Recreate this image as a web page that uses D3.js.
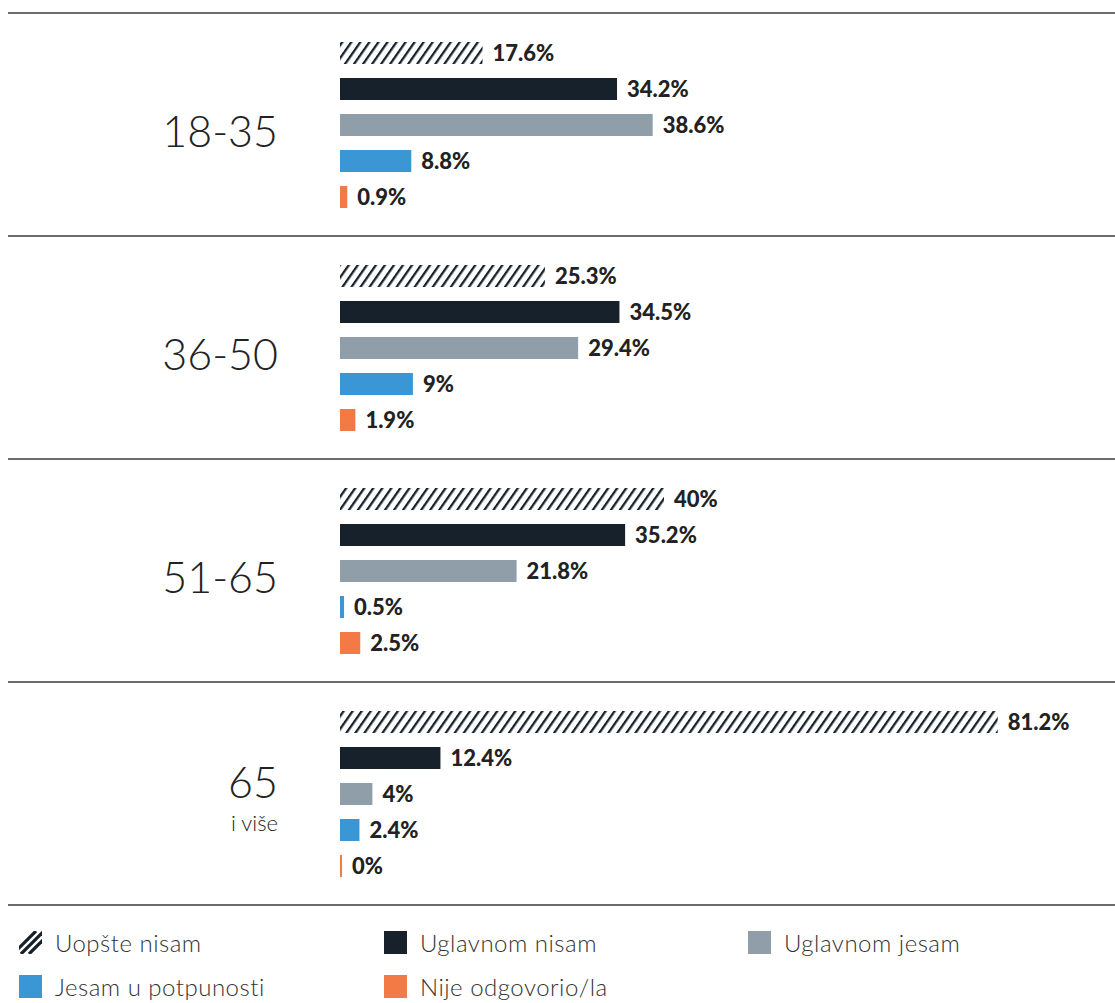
<!DOCTYPE html>
<html>
<head>
<meta charset="utf-8">
<script src="https://cdn.jsdelivr.net/npm/d3@7/dist/d3.min.js"></script>
<style>
  html, body { margin: 0; padding: 0; background: #fff; }
  svg { display: block; }
</style>
</head>
<body>
<svg id="chart" width="1115" height="1003"></svg>
<script>
// ---- data ----
const groups = ["18-35", "36-50", "51-65", "65"];
const groupSub = ["", "", "", "i više"];
const seriesNames = ["Uopšte nisam", "Uglavnom nisam", "Uglavnom jesam", "Jesam u potpunosti", "Nije odgovorio/la"];
const uopsteNisam     = [17.6, 25.3, 40, 81.2];
const uglavnomNisam   = [34.2, 34.5, 35.2, 12.4];
const uglavnomJesam   = [38.6, 29.4, 21.8, 4];
const jesamUPotpunosti= [8.8, 9, 0.5, 2.4];
const nijeOdgovorio   = [0.9, 1.9, 2.5, 0];
const seriesValues = [uopsteNisam, uglavnomNisam, uglavnomJesam, jesamUPotpunosti, nijeOdgovorio];
const seriesColors = ["url(#hatch)", "#16212b", "#8f9ea8", "#3a96d4", "#f47a45"];

const svg = d3.select("#chart");
const defs = svg.append("defs");
const pat = defs.append("pattern")
  .attr("id", "hatch").attr("patternUnits", "userSpaceOnUse")
  .attr("width", 7.4).attr("height", 7.4)
  .attr("patternTransform", "rotate(35)");
pat.append("rect").attr("width", 7.4).attr("height", 7.4).attr("fill", "#fff");
pat.append("rect").attr("x", 0).attr("width", 2.3).attr("height", 7.4).attr("fill", "#16212b");

const x = d3.scaleLinear().domain([0, 100]).range([340, 1150]);
const gy = d3.scaleBand().domain(groups).range([13, 905]).padding(0);
const by = d3.scaleBand().domain(seriesNames).range([29, 195]).paddingInner(0.389).paddingOuter(0);

const font = "Lato, 'Noto Sans', sans-serif";

// separator lines
const lines = groups.map(g => gy(g)).concat([gy.range()[1]]);
svg.selectAll("line.sep").data(lines).join("line")
  .attr("class", "sep")
  .attr("x1", 8).attr("x2", 1115)
  .attr("y1", d => d).attr("y2", d => d)
  .attr("stroke", "#3a3a3a").attr("stroke-width", 1.5);

groups.forEach((g, gi) => {
  const top = gy(g);
  const cy = top + gy.bandwidth() / 2;
  const gEl = svg.append("g");
  if (groupSub[gi]) {
    gEl.append("text").attr("x", 278).attr("y", cy + 4)
      .attr("text-anchor", "end").attr("font-family", font).attr("font-weight", 300)
      .attr("font-size", 43).attr("fill", "#222").text(g);
    gEl.append("text").attr("x", 278).attr("y", cy + 37)
      .attr("text-anchor", "end").attr("font-family", font).attr("font-weight", 300)
      .attr("font-size", 22).attr("fill", "#222").text(groupSub[gi]);
  } else {
    gEl.append("text").attr("x", 278).attr("y", cy + 22)
      .attr("text-anchor", "end").attr("font-family", font).attr("font-weight", 300)
      .attr("font-size", 43).attr("fill", "#222").text(g);
  }

  const rows = seriesNames.map((s, si) => ({ s, si, v: seriesValues[si][gi] }));
  gEl.selectAll("rect.bar").data(rows).join("rect")
    .attr("class", "bar")
    .attr("x", x(0))
    .attr("y", d => top + by(d.s))
    .attr("width", d => Math.max(x(d.v) - x(0), 2))
    .attr("height", by.bandwidth())
    .attr("fill", d => seriesColors[d.si]);
  gEl.selectAll("text.val").data(rows).join("text")
    .attr("class", "val")
    .attr("x", d => x(0) + Math.max(x(d.v) - x(0), 2) + 10)
    .attr("y", d => top + by(d.s) + by.bandwidth() / 2 + 8)
    .attr("font-family", font).attr("font-weight", 900)
    .attr("font-size", 22).attr("fill", "#222")
    .text(d => d.v + "%");
});

// legend
const legX = [19, 384, 748];
const legY = [931, 975];
const leg = svg.append("g");
seriesNames.forEach((s, i) => {
  const lx = legX[i % 3], ly = legY[Math.floor(i / 3)];
  if (i === 0) {
    const gg = leg.append("g");
    gg.append("clipPath").attr("id", "legclip").append("rect")
      .attr("x", lx).attr("y", ly).attr("width", 23).attr("height", 23);
    const strokes = [0, 8, 16];
    gg.append("g").attr("clip-path", "url(#legclip)")
      .selectAll("line").data(strokes).join("line")
      .attr("x1", d => lx - 6 + d).attr("y1", ly + 23)
      .attr("x2", d => lx + 17 + d).attr("y2", ly)
      .attr("stroke", "#16212b").attr("stroke-width", 3.2);
  } else {
    leg.append("rect").attr("x", lx).attr("y", ly).attr("width", 23).attr("height", 23)
      .attr("fill", seriesColors[i]);
  }
  leg.append("text").attr("x", lx + 36).attr("y", ly + 21)
    .attr("font-family", font).attr("font-weight", 300)
    .attr("font-size", 24).attr("letter-spacing", 0.5).attr("fill", "#333").text(s);
});
</script>
</body>
</html>
